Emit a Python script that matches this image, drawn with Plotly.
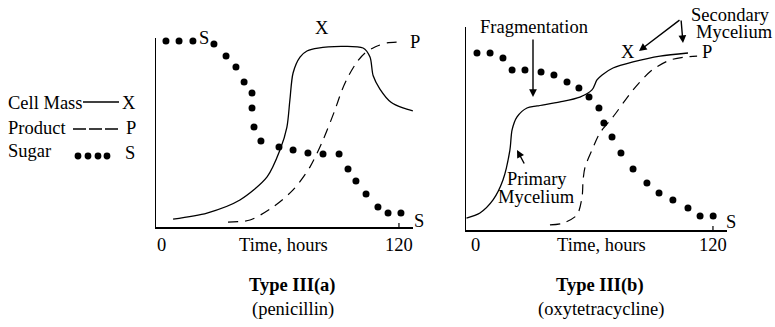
import plotly.graph_objects as go

# ---------------- data (hours, relative level 0-100) ----------------
# Type III(a) penicillin
time_s_a = [2.5, 9.1, 16.1, 26.7, 32.8, 37.8, 41.9, 45.9, 45.9, 46.9, 50.4, 59.5, 66.6, 74.1, 81.7, 89.8, 94.3, 98.3, 103.4, 109.4, 114.5, 121.0]
sugar_a = [98.4, 98.4, 98.4, 96.8, 90.5, 84.7, 76.7, 70.9, 63.0, 52.9, 45.5, 42.3, 40.7, 39.2, 38.6, 38.6, 30.7, 24.3, 17.5, 10.6, 7.4, 7.4]
time_x_a = [6.1, 23.2, 39.8, 53.5, 60.0, 63.5, 65.0, 66.6, 70.1, 73.6, 79.2, 101.9, 105.4, 107.0, 110.4, 116.0, 122.0, 127.0]
cell_a = [4.2, 7.4, 14.3, 26.5, 40.7, 52.9, 67.2, 81.5, 89.9, 93.1, 94.7, 94.7, 89.9, 80.0, 73.0, 66.0, 63.0, 61.5]
time_p_a = [33.8, 44.9, 56.5, 66.6, 75.1, 81.7, 87.7, 91.3, 94.8, 98.8, 102.9, 107.9, 114.0, 122.0]
prod_a = [2.6, 3.7, 10.6, 19.6, 31.7, 46.0, 61.9, 72.5, 80.4, 87.3, 92.1, 95.2, 97.4, 97.9]

# Type III(b) oxytetracycline
time_s_b = [1.0, 7.6, 14.1, 18.7, 25.2, 33.3, 39.8, 46.4, 52.4, 57.5, 62.5, 65.0, 69.1, 73.6, 79.7, 86.7, 92.8, 99.8, 107.4, 113.5, 120.1]
sugar_b = [87.2, 87.2, 84.7, 78.8, 78.8, 77.8, 76.4, 72.9, 70.0, 65.5, 60.1, 52.7, 45.8, 37.9, 30.0, 23.2, 18.2, 14.8, 10.8, 6.9, 6.9]
time_x_b = [-4.3, 2.5, 9.1, 14.1, 17.6, 18.7, 21.2, 26.2, 31.3, 42.9, 52.9, 59.0, 61.5, 64.1, 69.6, 79.7, 93.3, 107.4]
cell_b = [5.9, 8.4, 14.8, 24.6, 39.4, 49.3, 55.7, 60.1, 61.1, 63.1, 65.5, 69.0, 73.9, 76.4, 79.8, 82.8, 85.7, 87.2]
time_p_b = [37.8, 44.4, 51.4, 54.0, 54.5, 55.5, 59.0, 63.0, 69.6, 79.7, 89.3, 98.3, 105.9, 112.0]
prod_b = [2.5, 3.4, 7.4, 16.3, 24.6, 31.0, 39.4, 47.8, 55.7, 69.0, 78.8, 83.7, 85.2, 85.7]

tick_vals = [0, 120]
tick_text = ["0", "120"]

# ---------------- figure ----------------
W, H = 775, 327
FONT = "Liberation Serif, Times New Roman, serif"
FS = 18.5


def px(x):
    return x / W


def py(y):
    return 1 - y / H


fig = go.Figure()

for xa, ya, ts, s, tx, cx, tp, pp in [
    ("x", "y", time_s_a, sugar_a, time_x_a, cell_a, time_p_a, prod_a),
    ("x2", "y2", time_s_b, sugar_b, time_x_b, cell_b, time_p_b, prod_b),
]:
    fig.add_trace(go.Scatter(x=tx, y=cx, mode="lines", xaxis=xa, yaxis=ya,
                             line=dict(color="black", width=1.3, shape="spline", smoothing=0.8),
                             cliponaxis=False, showlegend=False, hoverinfo="skip"))
    fig.add_trace(go.Scatter(x=tp, y=pp, mode="lines", xaxis=xa, yaxis=ya,
                             line=dict(color="black", width=1.2, shape="spline", smoothing=0.8, dash="10px,7px"),
                             cliponaxis=False, showlegend=False, hoverinfo="skip"))
    fig.add_trace(go.Scatter(x=ts, y=s, mode="markers", xaxis=xa, yaxis=ya,
                             marker=dict(color="black", size=7),
                             cliponaxis=False, showlegend=False, hoverinfo="skip"))

axis_common = dict(showline=True, linecolor="black", linewidth=1.5, showgrid=False,
                   zeroline=False, showticklabels=False, ticks="", fixedrange=True)

fig.update_layout(
    width=W, height=H, autosize=False,
    margin=dict(l=0, r=0, t=0, b=0),
    paper_bgcolor="white", plot_bgcolor="white",
    font=dict(family=FONT, size=FS, color="black"),
    xaxis=dict(domain=[px(156), px(413)], range=[-2.52, 127.08], anchor="y", **axis_common),
    yaxis=dict(domain=[py(227), py(38)], range=[0, 100], anchor="x", **axis_common),
    xaxis2=dict(domain=[px(466), px(727)], range=[-4.54, 127.08], anchor="y2", **axis_common),
    yaxis2=dict(domain=[py(230), py(27)], range=[0, 100], anchor="x2", **axis_common),
)

shapes = []
# ticks at 120
shapes.append(dict(type="line", xref="x", yref="y", x0=tick_vals[1], x1=tick_vals[1], y0=2.1, y1=-4.2,
                   line=dict(color="black", width=1.2)))
shapes.append(dict(type="line", xref="x2", yref="y2", x0=tick_vals[1], x1=tick_vals[1], y0=2.0, y1=-3.5,
                   line=dict(color="black", width=1.2)))
# legend key
shapes.append(dict(type="line", xref="paper", yref="paper", x0=px(83), x1=px(119), y0=py(102), y1=py(102),
                   line=dict(color="black", width=1.3)))
shapes.append(dict(type="line", xref="paper", yref="paper", x0=px(73), x1=px(118), y0=py(129), y1=py(129),
                   line=dict(color="black", width=1.3, dash="13px,3px")))
for cxp in [78, 88, 98, 107]:
    shapes.append(dict(type="circle", xref="paper", yref="paper",
                       x0=px(cxp - 3.4), x1=px(cxp + 3.4), y0=py(156 - 3.4), y1=py(156 + 3.4),
                       fillcolor="black", line=dict(color="black", width=0)))
fig.update_layout(shapes=shapes)

ann = []


def text(t, x, y, xanchor="center", bold=False, size=FS):
    ann.append(dict(text=("<b>%s</b>" % t) if bold else t, x=px(x), y=py(y), xref="paper", yref="paper",
                    xanchor=xanchor, yanchor="middle", showarrow=False,
                    font=dict(family=FONT, size=size, color="black")))


def arrow(hx, hy, tx, ty):
    ann.append(dict(text="", x=px(hx), y=py(hy), xref="paper", yref="paper",
                    ax=tx - hx, ay=ty - hy, showarrow=True, arrowhead=2, arrowsize=1.1,
                    arrowwidth=1.4, arrowcolor="black", standoff=0, startstandoff=0))


# legend text
text("Cell Mass", 6, 103, "left")
text("X", 129, 103)
text("Product", 6, 128, "left")
text("P", 131, 128)
text("Sugar", 6, 151, "left")
text("S", 130, 153)

# left panel labels
text("S", 204, 38)
text("X", 322, 28)
text("P", 415, 42)
text("S", 419, 221)
for v, t in zip(tick_vals, tick_text):
    ann.append(dict(text=t, x=v, y=py(245), xref="x", yref="paper", xanchor="center", yanchor="middle",
                    showarrow=False, font=dict(family=FONT, size=FS, color="black")))
text("Time, hours", 283, 245)
text("Type III(a)", 292, 285, bold=True)
text("(penicillin)", 293, 309)

# right panel labels
text("Fragmentation", 534, 27)
arrow(533, 97, 533, 38)
text("Secondary", 730, 15)
text("Mycelium", 734, 32)
arrow(639, 51, 681, 19)
arrow(683, 43, 681, 19)
text("X", 628, 52)
text("P", 707, 52)
text("S", 731, 222)
text("Primary", 537, 179)
text("Mycelium", 536, 197)
arrow(517, 150, 525, 165)
for v, t in zip(tick_vals, tick_text):
    ann.append(dict(text=t, x=v, y=py(245), xref="x2", yref="paper", xanchor="center", yanchor="middle",
                    showarrow=False, font=dict(family=FONT, size=FS, color="black")))
text("Time, hours", 601, 245)
text("Type III(b)", 600, 285, bold=True)
text("(oxytetracycline)", 601, 309)

fig.update_layout(annotations=ann)

fig.write_html("out.html", config={"displayModeBar": False, "staticPlot": True},
               post_script="document.body.style.margin='0px';document.body.style.overflow='hidden';")
